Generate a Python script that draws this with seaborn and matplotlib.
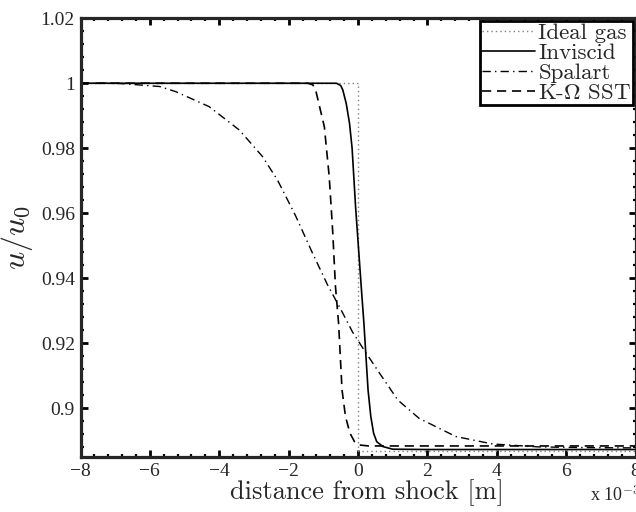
import numpy as np
import pandas as pd
import matplotlib
matplotlib.use("Agg")
import matplotlib.pyplot as plt
from matplotlib.ticker import FixedLocator, MultipleLocator
import seaborn as sns

# ---------------- data (x in units of 1e-3 m) ----------------
ideal_x = [-8.0, 0.0, 0.0, 8.0]
ideal_y = [1.0, 1.0, 0.8868, 0.8868]

inviscid_x = [-8.0, -0.62, -0.50, -0.44, -0.34, -0.245, -0.17, -0.07, 0.10, 0.17,
              0.23, 0.29, 0.37, 0.45, 0.54, 0.72, 1.0, 2.0, 8.0]
inviscid_y = [1.0, 1.0, 0.9993, 0.998, 0.9938, 0.9877, 0.980, 0.962, 0.9364, 0.9262,
              0.9159, 0.9056, 0.8974, 0.8923, 0.8897, 0.8882, 0.8874, 0.8873, 0.8873]

spalart_x = [-8.0, -7.0, -6.7, -5.72, -5.25, -4.29, -3.42, -2.75, -2.32, -1.93, -1.79,
             -1.31, -0.88, -0.45, -0.16, 0.14, 0.62, 1.15, 1.76, 2.82, 3.88, 5.22, 6.5, 8.0]
spalart_y = [1.0, 1.0, 0.9998, 0.9990, 0.9974, 0.9928, 0.9856, 0.9774, 0.9702, 0.9620, 0.9590,
             0.9477, 0.9380, 0.9295, 0.9235, 0.9185, 0.9108, 0.9025, 0.8969, 0.8913, 0.8890, 0.8881, 0.8879, 0.8878]

sst_x = [-8.0, -1.45, -1.30, -1.21, -0.97, -0.83, -0.73, -0.65, -0.56, -0.51, -0.46,
         -0.36, -0.23, -0.10, 0.04, 0.30, 8.0]
sst_y = [1.0, 1.0, 0.9995, 0.9974, 0.9866, 0.9713, 0.9545, 0.9375, 0.9262, 0.9159, 0.9056,
         0.8974, 0.8923, 0.8897, 0.8887, 0.8884, 0.8884]

series_names = ["Ideal gas", "Inviscid", "Spalart", r"K-$\Omega$ SST"]

xticks = [-8, -6, -4, -2, 0, 2, 4, 6, 8]
xticklabels = ["\u22128", "\u22126", "\u22124", "\u22122", "0", "2", "4", "6", "8"]
yticks = [0.9, 0.92, 0.94, 0.96, 0.98, 1.0, 1.02]
yticklabels = ["0.9", "0.92", "0.94", "0.96", "0.98", "1", "1.02"]

# ---------------- style ----------------
sns.set_theme(style="ticks")
plt.rcParams["mathtext.fontset"] = "cm"
plt.rcParams["font.family"] = ["Liberation Serif", "DejaVu Serif"]
plt.rcParams["axes.linewidth"] = 2.3

fig = plt.figure(figsize=(6.36, 5.12), dpi=100)
ax = fig.add_axes([80.5 / 636, 1 - 457 / 512, 555 / 636, 438.75 / 512])

frames = [
    (ideal_x, ideal_y, dict(color="0.5", lw=1.0, linestyle=(0, (1, 2.2)))),
    (inviscid_x, inviscid_y, dict(color="black", lw=1.2, linestyle="-")),
    (spalart_x, spalart_y, dict(color="black", lw=1.0, linestyle=(0, (6, 3, 1, 3)))),
    (sst_x, sst_y, dict(color="black", lw=1.2, linestyle=(0, (5.5, 3.5)))),
]
for (xs, ys, st), name in zip(frames, series_names):
    df = pd.DataFrame({"x": xs, "y": ys})
    sns.lineplot(data=df, x="x", y="y", ax=ax, estimator=None, sort=False,
                 label=name, **st)

ax.set_xlim(-8, 8)
ax.set_ylim(0.885, 1.02)
ax.xaxis.set_major_locator(FixedLocator(xticks))
ax.set_xticklabels(xticklabels)
ax.yaxis.set_major_locator(FixedLocator(yticks))
ax.set_yticklabels(yticklabels)
ax.xaxis.set_minor_locator(MultipleLocator(0.4))
ax.yaxis.set_minor_locator(MultipleLocator(0.004))
ax.tick_params(which="both", direction="in", top=True, right=True, color="black")
ax.tick_params(which="major", length=5, width=2.0, labelsize=14, pad=4)
ax.tick_params(which="minor", length=2.2, width=1.6)
for lab in ax.get_xticklabels() + ax.get_yticklabels():
    lab.set_fontfamily("Liberation Serif")

ax.set_xlabel("distance from shock [m]", fontfamily="cmr10", fontsize=19)
ax.xaxis.set_label_coords(0.517, (457 - 479) / 438.75)
ax.set_ylabel(r"$u/u_0$", fontsize=23, labelpad=4)

fig.text(590 / 636, 1 - 501 / 512, r"x 10$^{-3}$", fontsize=13,
         fontfamily="Liberation Serif", ha="left", va="baseline")

leg = ax.legend(loc="upper right", bbox_to_anchor=(0.9955, 0.994),
                prop={"family": "cmr10", "size": 16.5},
                frameon=True, fancybox=False, framealpha=1, edgecolor="black",
                borderpad=0.08, labelspacing=0.0, handlelength=2.3,
                handletextpad=0.15, borderaxespad=0.0)
leg.get_frame().set_linewidth(2.0)

fig.savefig("out.png", dpi=100)
